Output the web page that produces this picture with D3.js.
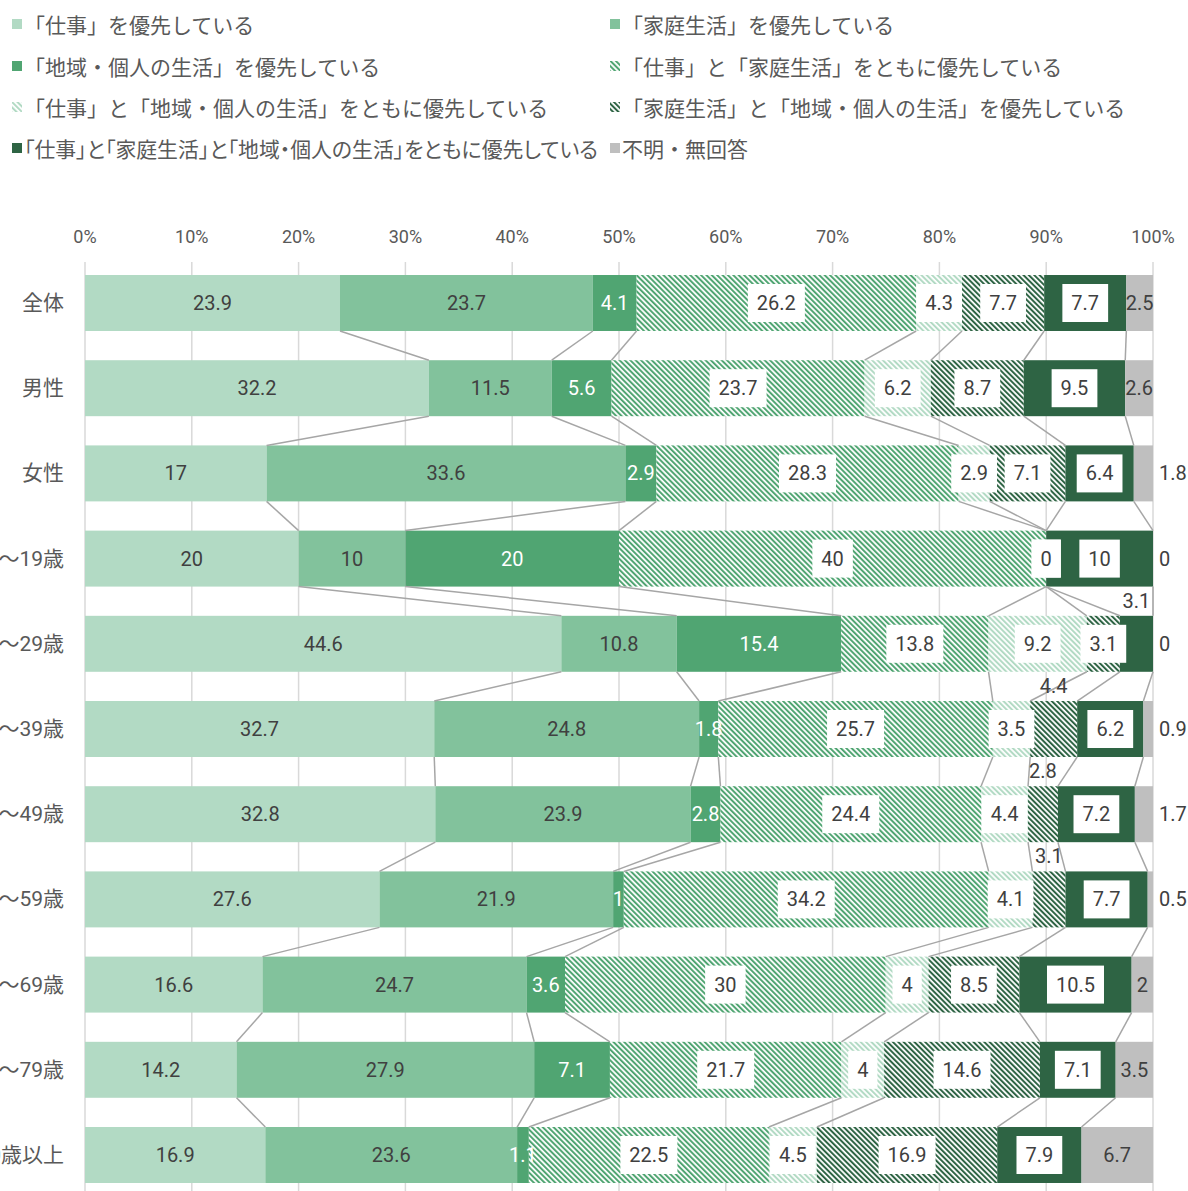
<!DOCTYPE html>
<html>
<head>
<meta charset="utf-8">
<script src="https://cdn.jsdelivr.net/npm/d3@7/dist/d3.min.js"></script>
<style>
  html, body { margin: 0; padding: 0; background: #fff; }
  svg { display: block; }
  .jp { font-feature-settings: "palt"; }
</style>
</head>
<body>
<svg id="chart" width="1188" height="1191"></svg>
<script>
// Categories (rows, top to bottom)
const categories = ["全体", "男性", "女性", "18～19歳", "20～29歳", "30～39歳", "40～49歳", "50～59歳", "60～69歳", "70～79歳", "80歳以上"];

// Series names (stack order, left to right)
const seriesNames = [
  "「仕事」を優先している",
  "「家庭生活」を優先している",
  "「地域・個人の生活」を優先している",
  "「仕事」と「家庭生活」をともに優先している",
  "「仕事」と「地域・個人の生活」をともに優先している",
  "「家庭生活」と「地域・個人の生活」を優先している",
  "「仕事」と「家庭生活」と「地域・個人の生活」をともに優先している",
  "不明・無回答"
];

// Percentages per series, one value per category
const workOnly      = [23.9, 32.2, 17,   20, 44.6, 32.7, 32.8, 27.6, 16.6, 14.2, 16.9];
const familyOnly    = [23.7, 11.5, 33.6, 10, 10.8, 24.8, 23.9, 21.9, 24.7, 27.9, 23.6];
const communityOnly = [4.1,  5.6,  2.9,  20, 15.4, 1.8,  2.8,  1,    3.6,  7.1,  1.1];
const workFamily    = [26.2, 23.7, 28.3, 40, 13.8, 25.7, 24.4, 34.2, 30,   21.7, 22.5];
const workCommunity = [4.3,  6.2,  2.9,  0,  9.2,  3.5,  4.4,  4.1,  4,    4,    4.5];
const familyCommunity = [7.7, 8.7, 7.1,  0,  3.1,  4.4,  2.8,  3.1,  8.5,  14.6, 16.9];
const allThree      = [7.7,  9.5,  6.4,  10, 3.1,  6.2,  7.2,  7.7,  10.5, 7.1,  7.9];
const noAnswer      = [2.5,  2.6,  1.8,  0,  0,    0.9,  1.7,  0.5,  2,    3.5,  6.7];

const seriesValues = [workOnly, familyOnly, communityOnly, workFamily, workCommunity, familyCommunity, allThree, noAnswer];

// Axis tick labels
const tickValues = [0, 10, 20, 30, 40, 50, 60, 70, 80, 90, 100];

// Labels lifted above their bar (category index, series index)
const raisedLabels = [[4, 6], [5, 5], [6, 5], [7, 5]];

// ---- styling ----
const fills = ["#b2dac4", "#82c29c", "#50a572", "url(#hatchMid)", "url(#hatchLight)", "url(#hatchDark)", "#2e6444", "#bfbfbf"];
const numFont = "Roboto, 'Noto Sans CJK JP', sans-serif";
const jpFont = "'Noto Sans CJK JP', Roboto, sans-serif";

const svg = d3.select("#chart");
const defs = svg.append("defs");

function hatch(id, color) {
  const p = defs.append("pattern")
    .attr("id", id)
    .attr("patternUnits", "userSpaceOnUse")
    .attr("width", 3.8).attr("height", 3.8)
    .attr("patternTransform", "rotate(-45)");
  p.append("rect").attr("width", 3.8).attr("height", 3.8).attr("fill", "#ffffff");
  p.append("rect").attr("width", 2.0).attr("height", 3.8).attr("fill", color);
}
hatch("hatchMid", "#50a572");
hatch("hatchLight", "#b2dac4");
hatch("hatchDark", "#2e6444");

// ---- scales ----
const x = d3.scaleLinear().domain([0, 100]).range([85, 1153]);
const y = d3.scaleBand().domain(categories).range([260.4, 1197.6]).paddingInner(0.343).paddingOuter(0.1715);

// ---- stacked rows (normalised to 100%) ----
const rows = categories.map((c, i) => {
  const vals = seriesValues.map(s => s[i]);
  const total = d3.sum(vals);
  let acc = 0;
  const segs = vals.map((v, k) => {
    const x0 = acc / total * 100;
    acc += v;
    const x1 = acc / total * 100;
    return { cat: c, row: i, k, v, x0, x1 };
  });
  return { cat: c, segs };
});

// ---- gridlines ----
svg.append("g").selectAll("line").data(tickValues).join("line")
  .attr("x1", d => x(d)).attr("x2", d => x(d))
  .attr("y1", 262).attr("y2", 1191)
  .attr("stroke", "#d9d9d9").attr("stroke-width", 1.5);

// ---- top axis labels ----
svg.append("g").selectAll("text").data(tickValues).join("text")
  .attr("x", d => x(d)).attr("y", 236)
  .attr("text-anchor", "middle").attr("dominant-baseline", "central")
  .attr("font-family", numFont).attr("font-size", 18).attr("fill", "#595959")
  .text(d => d + "%");

// ---- bars ----
const barG = svg.append("g");
rows.forEach(r => {
  barG.append("g").selectAll("rect").data(r.segs).join("rect")
    .attr("x", d => x(d.x0))
    .attr("y", y(r.cat))
    .attr("width", d => Math.max(0, x(d.x1) - x(d.x0)))
    .attr("height", y.bandwidth())
    .attr("fill", d => fills[d.k]);
});

// ---- series lines between consecutive bars ----
const connG = svg.append("g");
for (let i = 0; i < rows.length - 1; i++) {
  const a = rows[i], b = rows[i + 1];
  for (let k = 0; k < seriesNames.length - 1; k++) {
    connG.append("line")
      .attr("x1", x(a.segs[k].x1)).attr("y1", y(a.cat) + y.bandwidth())
      .attr("x2", x(b.segs[k].x1)).attr("y2", y(b.cat))
      .attr("stroke", "#a6a6a6").attr("stroke-width", 1.5);
  }
}

// ---- category labels (long ones run past the left edge) ----
svg.append("g").selectAll("text").data(categories).join("text")
  .attr("class", "jp")
  .attr("x", 64).attr("y", d => y(d) + y.bandwidth() / 2)
  .attr("text-anchor", "end").attr("dominant-baseline", "central")
  .attr("font-family", numFont).attr("font-size", 21).attr("fill", "#595959")
  .text(d => d);

// ---- data labels ----
const labelG = svg.append("g");
const isRaised = (i, k) => raisedLabels.some(p => p[0] === i && p[1] === k);
rows.forEach((r, i) => {
  const cy = y(r.cat) + y.bandwidth() / 2;
  r.segs.forEach(s => {
    const txt = String(s.v);
    let cx = x((s.x0 + s.x1) / 2);
    let ty = cy;
    let anchor = "middle";
    let color = "#404040";
    let boxed = false;
    if (isRaised(i, s.k)) {
      ty = y(r.cat) - 15;
    } else if (s.k === 2) {
      color = "#ffffff";
    } else if (s.k >= 3 && s.k <= 6) {
      boxed = true;
    } else if (s.k === 7 && s.v < 2) {
      cx = 1159; anchor = "start";
    }
    const t = labelG.append("text")
      .attr("x", cx).attr("y", ty)
      .attr("text-anchor", anchor).attr("dominant-baseline", "central")
      .attr("font-family", numFont).attr("font-size", 20).attr("fill", color)
      .text(txt);
    if (boxed) {
      const bb = t.node().getBBox();
      labelG.insert("rect", () => t.node())
        .attr("x", bb.x - 9).attr("y", cy - 19)
        .attr("width", bb.width + 18).attr("height", 38)
        .attr("fill", "#ffffff");
    }
  });
});

// ---- legend (two columns, entries fill across) ----
const legG = svg.append("g");
const legCols = [12, 610];
const legRows = [24, 66, 107, 148];
const legMaxWidth = 574;
seriesNames.forEach((name, k) => {
  const lx = legCols[k % 2];
  const ly = legRows[Math.floor(k / 2)];
  legG.append("rect")
    .attr("x", lx).attr("y", ly - 5).attr("width", 10).attr("height", 10)
    .attr("fill", fills[k]);
  const t = legG.append("text")
    .attr("x", lx + 12).attr("y", ly)
    .attr("dominant-baseline", "central")
    .attr("font-family", jpFont).attr("font-size", 21).attr("fill", "#595959")
    .text(name);
  // long entries switch to proportional punctuation, then shrink if still too wide
  if (t.node().getComputedTextLength() > legMaxWidth) {
    t.attr("class", "jp");
    const w = t.node().getComputedTextLength();
    if (w > legMaxWidth) t.attr("font-size", 21 * legMaxWidth / w);
  }
});
</script>
</body>
</html>
